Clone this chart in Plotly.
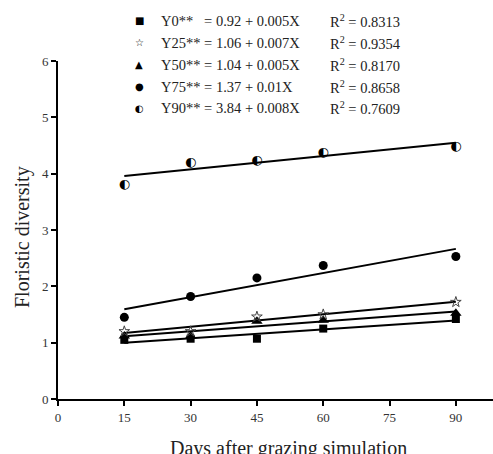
import numpy as np
import plotly.graph_objects as go

days = [15, 30, 45, 60, 90]
y0 = [1.05, 1.07, 1.07, 1.25, 1.42]
y25 = [1.20, 1.20, 1.46, 1.50, 1.72]
y50 = [1.12, 1.12, 1.38, 1.40, 1.52]
y75 = [1.45, 1.82, 2.15, 2.37, 2.53]
y90 = [3.81, 4.20, 4.23, 4.38, 4.47]

equations = [
    "Y0**   = 0.92 + 0.005X",
    "Y25** = 1.06 + 0.007X",
    "Y50** = 1.04 + 0.005X",
    "Y75** = 1.37 + 0.01X",
    "Y90** = 3.84 + 0.008X",
]
r2_values = ["0.8313", "0.9354", "0.8170", "0.8658", "0.7609"]
legend_symbols = ["\u25A0", "\u2606", "\u25B2", "\u25CF", "\u25D0"]

x_ticks = [0, 15, 30, 45, 60, 75, 90]
y_ticks = [0, 1, 2, 3, 4, 5, 6]

SERIF = "Liberation Serif, Times New Roman, serif"
SYM = "DejaVu Sans"

W, H = 493, 454
ML, MR, MT, MB = 58, 0, 61, 55
PW, PH = W - ML - MR, H - MT - MB


def px_x(p):
    return (p - ML) / PW


def px_y(p):
    return (H - MB - p) / PH


fig = go.Figure()

series = [y0, y25, y50, y75, y90]
# regression lines (least-squares fit of each series)
for ys in series:
    b, a = np.polyfit(days, ys, 1)
    xs = [min(days), max(days)]
    fig.add_trace(go.Scatter(x=xs, y=[a + b * v for v in xs], mode="lines",
                             line=dict(color="black", width=2), showlegend=False,
                             hoverinfo="skip"))

fig.add_trace(go.Scatter(x=days, y=y0, mode="markers", showlegend=False,
                         marker=dict(symbol="square", size=8, color="black")))
fig.add_trace(go.Scatter(x=days, y=y50, mode="markers", showlegend=False,
                         marker=dict(symbol="triangle-up", size=10, color="black")))
fig.add_trace(go.Scatter(x=days, y=y25, mode="markers", showlegend=False,
                         marker=dict(symbol="star-open", size=8, color="#444",
                                     line=dict(width=1, color="#444"))))
fig.add_trace(go.Scatter(x=days, y=y75, mode="markers", showlegend=False,
                         marker=dict(symbol="circle", size=9, color="black")))
fig.add_trace(go.Scatter(x=days, y=y90, mode="text", showlegend=False,
                         text=["\u25D0"] * len(days), textposition="middle center",
                         textfont=dict(family=SYM, size=13, color="black")))

row_y = [20.5, 42.5, 64.5, 86.5, 108]
annotations = []
for i in range(5):
    yp = px_y(row_y[i])
    annotations.append(dict(xref="paper", yref="paper", x=px_x(139), y=yp,
                            text=legend_symbols[i], showarrow=False,
                            xanchor="center", yanchor="middle",
                            font=dict(family=SYM, size=10, color="black")))
    annotations.append(dict(xref="paper", yref="paper", x=px_x(159), y=yp,
                            text=equations[i], showarrow=False,
                            xanchor="left", yanchor="middle",
                            font=dict(family=SERIF, size=14.5, color="#222")))
    annotations.append(dict(xref="paper", yref="paper", x=px_x(328), y=yp,
                            text="R<sup>2</sup> = " + r2_values[i], showarrow=False,
                            xanchor="left", yanchor="middle",
                            font=dict(family=SERIF, size=14.5, color="#222")))

annotations.append(dict(xref="paper", yref="paper", x=px_x(288), y=px_y(448),
                        text="Days after grazing simulation", showarrow=False,
                        xanchor="center", yanchor="middle",
                        font=dict(family=SERIF, size=20, color="#222")))
annotations.append(dict(xref="paper", yref="paper", x=px_x(22), y=px_y(237),
                        text="Floristic diversity", showarrow=False, textangle=-90,
                        xanchor="center", yanchor="middle",
                        font=dict(family=SERIF, size=20, color="#222")))

fig.update_layout(
    width=W, height=H,
    margin=dict(l=ML, r=MR, t=MT, b=MB),
    plot_bgcolor="white", paper_bgcolor="white",
    annotations=annotations,
    xaxis=dict(range=[0, 98.4], tickvals=x_ticks, ticks="outside", ticklen=5,
               tickwidth=1.5, tickcolor="black", showline=True, linecolor="black",
               linewidth=2, showgrid=False, zeroline=False, automargin=False,
               tickfont=dict(family=SERIF, size=13, color="#333")),
    yaxis=dict(range=[0, 6], tickvals=y_ticks, ticks="outside", ticklen=5,
               tickwidth=1.5, tickcolor="black", showline=True, linecolor="black",
               linewidth=2, showgrid=False, zeroline=False, automargin=False,
               tickfont=dict(family=SERIF, size=13, color="#333")),
)

fig.write_html("out.html", config={"displayModeBar": False},
               post_script="document.body.style.margin='0';document.body.style.overflow='hidden';")
